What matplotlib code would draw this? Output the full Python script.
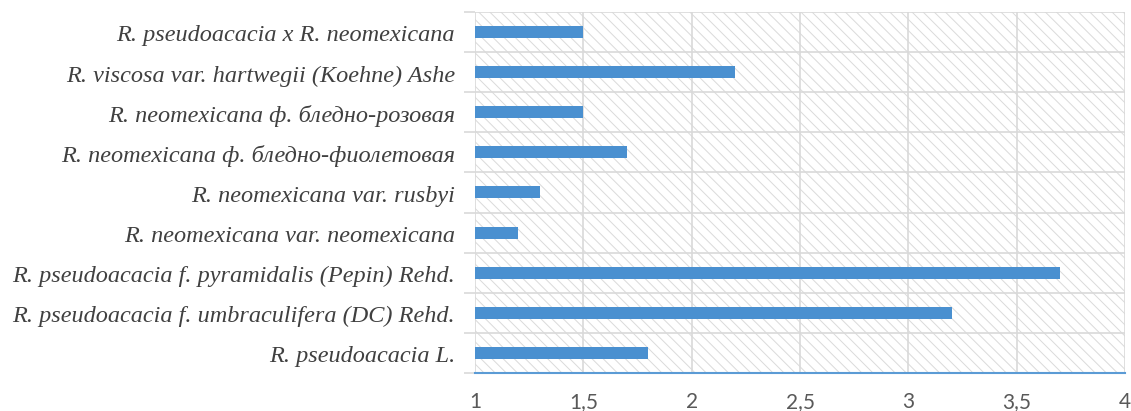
import matplotlib.pyplot as plt
import matplotlib.transforms as mtransforms
from matplotlib.patches import Rectangle
from matplotlib.ticker import FuncFormatter

# categories bottom -> top
labels = [
    'R. pseudoacacia L.',
    'R. pseudoacacia f. umbraculifera (DC) Rehd.',
    'R. pseudoacacia f. pyramidalis (Pepin) Rehd.',
    'R. neomexicana var. neomexicana',
    'R. neomexicana var. rusbyi',
    'R. neomexicana ф. бледно-фиолетовая',
    'R. neomexicana ф. бледно-розовая',
    'R. viscosa var. hartwegii (Koehne) Ashe',
    'R. pseudoacacia x R. neomexicana',
]
values = [1.8, 3.2, 3.7, 1.2, 1.3, 1.7, 1.5, 2.2, 1.5]
base = 1.0
xticks = [1, 1.5, 2, 2.5, 3, 3.5, 4]

plt.rcParams['hatch.linewidth'] = 0.7

fig = plt.figure(figsize=(11.31, 4.11), dpi=100)
ax = fig.add_axes([0.42, 0.0925, 0.5747, 0.8785])

ypos = list(range(len(labels)))
ax.barh(ypos, [v - base for v in values], left=base, height=0.3,
        color='#4a90d0', zorder=3)

ax.set_xlim(1, 4)
ax.set_ylim(-0.5, len(labels) - 0.5)

# hatched plot area
ax.add_patch(Rectangle((0, 0), 1, 1, transform=ax.transAxes, facecolor='white',
                       edgecolor='#dadada', linewidth=0, hatch='\\\\\\', zorder=0))

ax.set_xticks(xticks)
ax.xaxis.set_major_formatter(FuncFormatter(lambda v, p: f'{v:g}'.replace('.', ',')))
ax.set_yticks(ypos)
ax.set_yticklabels([])
ax.set_yticks([y + 0.5 for y in [-1] + ypos], minor=True)

# category labels, sitting a little below the bar centres as in the original
trans = mtransforms.blended_transform_factory(ax.transAxes, ax.transData)
trans = trans + mtransforms.ScaledTranslation(-0.20, -0.04, fig.dpi_scale_trans)
for y, lab in zip(ypos, labels):
    ax.text(0, y, lab, transform=trans, ha='right', va='center',
            family='Liberation Serif', style='italic', fontsize=17.5,
            color='#404040')

for lab in ax.get_xticklabels():
    lab.set_family('Lato')
    lab.set_fontsize(15)
    lab.set_color('#595959')

ax.tick_params(axis='y', which='major', length=0)
ax.tick_params(axis='y', which='minor', length=8, color='#d9d9d9', width=1.2)
ax.tick_params(axis='x', length=0, pad=14)

ax.grid(axis='x', which='major', color='#d9d9d9', linewidth=1.2, zorder=1)
ax.grid(axis='y', which='minor', color='#d9d9d9', linewidth=1.2, zorder=1)
ax.set_axisbelow(True)

for s in ['top', 'right', 'left']:
    ax.spines[s].set_visible(False)
ax.spines['bottom'].set_color('#5b9bd5')
ax.spines['bottom'].set_linewidth(1.5)
ax.spines['bottom'].set_zorder(4)

fig.savefig('out.png', dpi=100)
